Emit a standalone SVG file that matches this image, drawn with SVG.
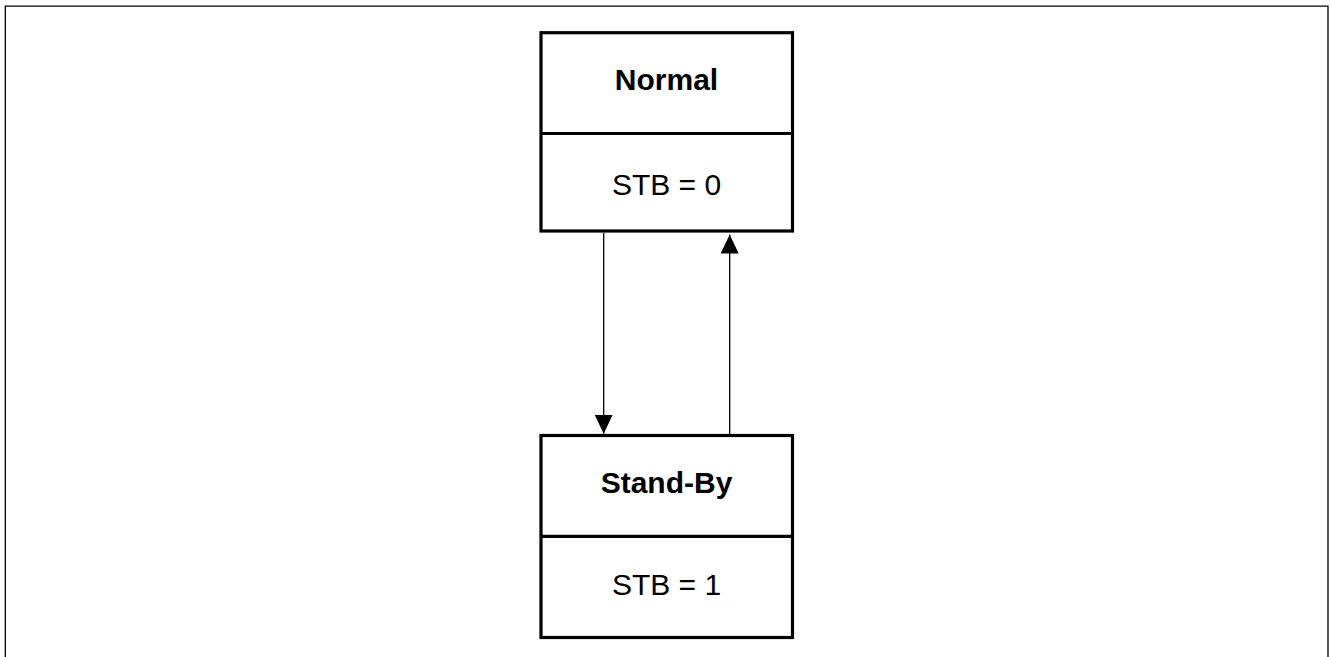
<svg xmlns="http://www.w3.org/2000/svg" width="1330" height="657" viewBox="0 0 1330 657">
  <style>
    .box { fill: #ffffff; stroke: #000000; stroke-width: 3.2; }
    .div { stroke: #000000; stroke-width: 3.2; }
    .title { font-family: "Liberation Sans", Arial, sans-serif; font-size: 30px; font-weight: bold; fill: #000000; text-anchor: middle; }
    .body { font-family: "Liberation Sans", Arial, sans-serif; font-size: 30px; fill: #000000; text-anchor: middle; }
    .edge { stroke: #000000; stroke-width: 1.3; fill: none; }
    .frame { stroke: #000000; stroke-width: 1.3; fill: none; }
  </style>
  <defs>
    <marker id="arrow" viewBox="0 0 19 18" refX="19" refY="9" markerWidth="19" markerHeight="18" markerUnits="userSpaceOnUse" orient="auto">
      <path d="M0,0 L19,9 L0,18 Z" fill="#000000"/>
    </marker>
  </defs>
  <rect width="1330" height="657" fill="#ffffff"/>
  <path class="frame" d="M5.3,657 V6.2 H1328 V657"/>

  <g id="node-normal">
    <rect class="box" x="541" y="32.7" width="251.5" height="198.3"/>
    <line class="div" x1="541" y1="133.5" x2="792.5" y2="133.5"/>
    <text class="title" x="666.5" y="90">Normal</text>
    <text class="body" x="666.5" y="195">STB = 0</text>
  </g>

  <g id="node-standby">
    <rect class="box" x="541" y="435.5" width="251.5" height="202"/>
    <line class="div" x1="541" y1="536.3" x2="792.5" y2="536.3"/>
    <text class="title" x="666.5" y="493">Stand-By</text>
    <text class="body" x="666.5" y="595">STB = 1</text>
  </g>

  <g id="connectors">
    <line class="edge" x1="603.7" y1="232.7" x2="603.7" y2="433.8" marker-end="url(#arrow)"/>
    <line class="edge" x1="729.7" y1="434" x2="729.7" y2="234.5" marker-end="url(#arrow)"/>
  </g>
</svg>
